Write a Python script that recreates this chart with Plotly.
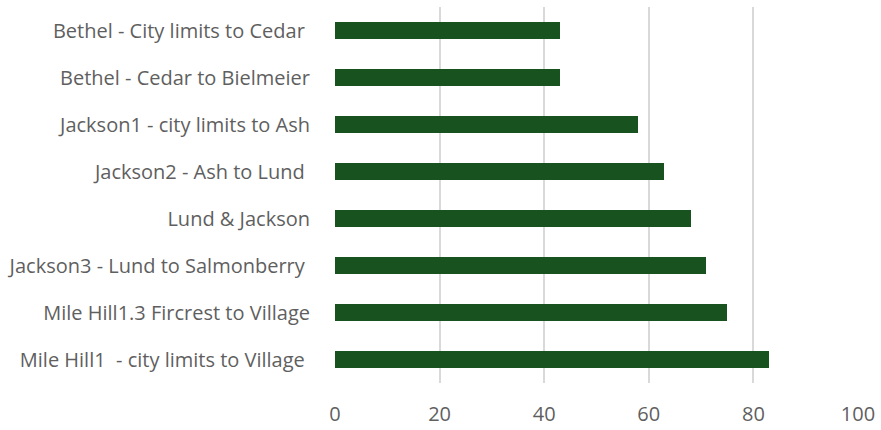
import plotly.graph_objects as go

categories = [
    "Bethel - City limits to Cedar ",
    "Bethel - Cedar to Bielmeier",
    "Jackson1 - city limits to Ash",
    "Jackson2 - Ash to Lund ",
    "Lund & Jackson",
    "Jackson3 - Lund to Salmonberry ",
    "Mile Hill1.3 Fircrest to Village",
    "Mile Hill1  - city limits to Village ",
]
values = [43, 43, 58, 63, 68, 71, 75, 83]
x_ticks = [0, 20, 40, 60, 80, 100]

labels = [c.replace(" ", "\u00a0") for c in categories]

fig = go.Figure(
    go.Bar(
        x=values,
        y=labels,
        orientation="h",
        marker=dict(color="#18531f", line=dict(width=0)),
        width=0.355,
    )
)

fig.update_layout(
    width=881,
    height=430,
    margin=dict(l=335, r=23, t=7, b=47),
    paper_bgcolor="white",
    plot_bgcolor="white",
    showlegend=False,
    font=dict(family="Open Sans", size=20, color="#5f5f5f"),
    bargap=0,
)
fig.update_xaxes(
    range=[0, 100],
    tickvals=x_ticks,
    showgrid=True,
    gridcolor="#d9d9d9",
    gridwidth=2,
    zeroline=False,
    showline=False,
    ticks="outside",
    ticklen=13,
    tickcolor="rgba(0,0,0,0)",
    tickfont=dict(size=20, color="#5f5f5f"),
    automargin=False,
)
fig.update_yaxes(
    autorange="reversed",
    showgrid=False,
    zeroline=False,
    showline=False,
    ticks="outside",
    ticklen=20,
    tickcolor="rgba(0,0,0,0)",
    tickfont=dict(size=20, color="#5f5f5f"),
    automargin=False,
)

fig.write_html("out.html")
